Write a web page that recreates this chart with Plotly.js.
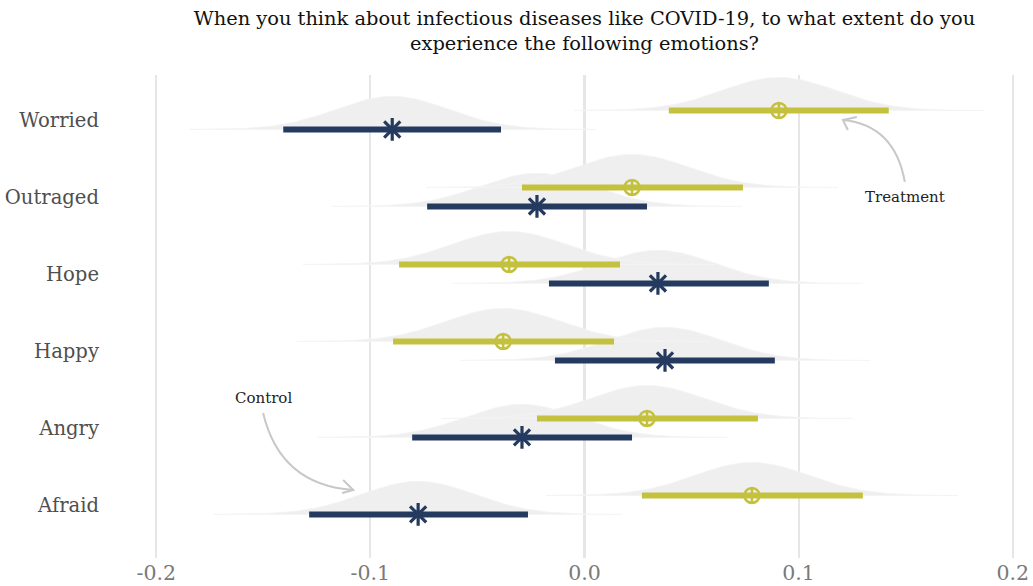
<!DOCTYPE html>
<html>
<head>
<meta charset="utf-8">
<script src="https://cdn.plot.ly/plotly-3.0.1.min.js"></script>
<style>html,body{margin:0;padding:0;background:#fff;}#chart{width:1033px;height:586px;}</style>
</head>
<body>
<div id="chart"></div>
<script>
// ---- data ----
const categories = ["Worried", "Outraged", "Hope", "Happy", "Angry", "Afraid"];

const treatmentPoint = [0.0908, 0.0222, -0.0352, -0.0380, 0.0292, 0.0782];
const treatmentLow   = [0.0394, -0.0292, -0.0866, -0.0894, -0.0222, 0.0268];
const treatmentHigh  = [0.1421, 0.0740, 0.0166, 0.0138, 0.0810, 0.1300];

const controlPoint = [-0.0898, -0.0222, 0.0343, 0.0376, -0.0292, -0.0777];
const controlLow   = [-0.1407, -0.0735, -0.0166, -0.0138, -0.0805, -0.1286];
const controlHigh  = [-0.0390, 0.0292, 0.0861, 0.0889, 0.0222, -0.0264];

const xTicks = [-0.2, -0.1, 0.0, 0.1, 0.2];
const xTickLabels = ["-0.2", "-0.1", "0.0", "0.1", "0.2"];

// ---- styling ----
const NAVY = "#243a5e";
const OLIVE = "#c4c13e";
const SLAB = "#efefef";
const FONT = "DejaVu Serif, Liberation Serif, serif";
const OFFSET = 0.123;     // vertical offset of each group within a row
const SLAB_H = 0.43;      // peak height of density slab (row units)

const n = categories.length;
const rowY = categories.map((c, i) => n - 1 - i);

// density slab derived from point estimate and 95% interval (normal approx.)
function slab(pt, lo, hi, base) {
  const sd = (hi - lo) / (2 * 1.93);
  const xs = [], ys = [];
  const steps = 120, span = 3.6;
  for (let k = 0; k <= steps; k++) {
    const x = pt - span * sd + (2 * span * sd) * k / steps;
    xs.push(x);
    ys.push(base + SLAB_H * Math.exp(-0.5 * Math.pow((x - pt) / sd, 2)));
  }
  xs.push(pt + span * sd, pt - span * sd);
  ys.push(base, base);
  return {x: xs, y: ys, type: "scatter", mode: "lines", fill: "toself",
          fillcolor: SLAB, line: {color: "#f4f4f4", width: 0.8}, hoverinfo: "skip", showlegend: false};
}

const traces = [];
for (let i = 0; i < n; i++) {
  traces.push(slab(controlPoint[i], controlLow[i], controlHigh[i], rowY[i] - OFFSET));
  traces.push(slab(treatmentPoint[i], treatmentLow[i], treatmentHigh[i], rowY[i] + OFFSET));
}

function intervals(lo, hi, off, color) {
  const xs = [], ys = [];
  for (let i = 0; i < n; i++) {
    xs.push(lo[i], hi[i], null);
    ys.push(rowY[i] + off, rowY[i] + off, null);
  }
  return {x: xs, y: ys, type: "scatter", mode: "lines",
          line: {color: color, width: 6}, hoverinfo: "skip", showlegend: false};
}
traces.push(intervals(controlLow, controlHigh, -OFFSET, NAVY));
traces.push(intervals(treatmentLow, treatmentHigh, OFFSET, OLIVE));

traces.push({x: controlPoint, y: rowY.map(v => v - OFFSET), type: "scatter", mode: "markers",
  marker: {symbol: "asterisk-open", size: 19, color: NAVY, line: {color: NAVY, width: 3.2}}, showlegend: false});
traces.push({x: treatmentPoint, y: rowY.map(v => v + OFFSET), type: "scatter", mode: "markers",
  marker: {symbol: "circle-cross-open", size: 15, color: OLIVE, line: {color: OLIVE, width: 2.6}}, showlegend: false});

const ARROW = {color: "#c8c8c8", width: 2};
const layout = {
  width: 1033, height: 586,
  margin: {l: 152, r: 16, t: 75, b: 28},
  paper_bgcolor: "#fff", plot_bgcolor: "#fff",
  font: {family: FONT, color: "#444"},
  title: {text: "When you think about infectious diseases like COVID-19, to what extent do you<br>experience the following emotions?",
          x: 0.5, xref: "paper", y: 0.958, yanchor: "top",
          font: {family: FONT, size: 19.4, color: "#111"}},
  xaxis: {range: [-0.202, 0.202], tickvals: xTicks, ticktext: xTickLabels,
          showgrid: true, gridcolor: "#e6e6e6", gridwidth: 2.2, zeroline: false,
          showline: false, ticks: "", tickfont: {family: FONT, size: 20.5, color: "#7a7a7a"}},
  yaxis: {range: [-0.689, 5.584], tickvals: rowY, ticktext: categories,
          showgrid: false, zeroline: false, showline: false, ticks: "",
          ticklabelstandoff: 52, tickfont: {family: FONT, size: 19.6, color: "#4f4f4f"}},
  shapes: [
    {type: "path", xref: "x", yref: "y", path: "M-0.1501,1.195 Q-0.1421,0.260 -0.1080,0.195", line: ARROW},
    {type: "path", xref: "x", yref: "y", path: "M-0.1127,0.325 L-0.1080,0.195 L-0.1132,0.156", line: ARROW},
    {type: "path", xref: "x", yref: "y", path: "M0.1496,4.195 Q0.1449,4.935 0.1207,5.0", line: ARROW},
    {type: "path", xref: "x", yref: "y", path: "M0.1272,5.039 L0.1207,5.0 L0.1230,4.870", line: ARROW}
  ],
  annotations: [
    {x: -0.150, y: 1.39, xref: "x", yref: "y", text: "Control", showarrow: false,
     font: {family: FONT, size: 15, color: "#222"}},
    {x: 0.1496, y: 4.0, xref: "x", yref: "y", text: "Treatment", showarrow: false,
     font: {family: FONT, size: 15, color: "#222"}}
  ]
};

Plotly.newPlot("chart", traces, layout, {displayModeBar: false, staticPlot: true});
</script>
</body>
</html>
